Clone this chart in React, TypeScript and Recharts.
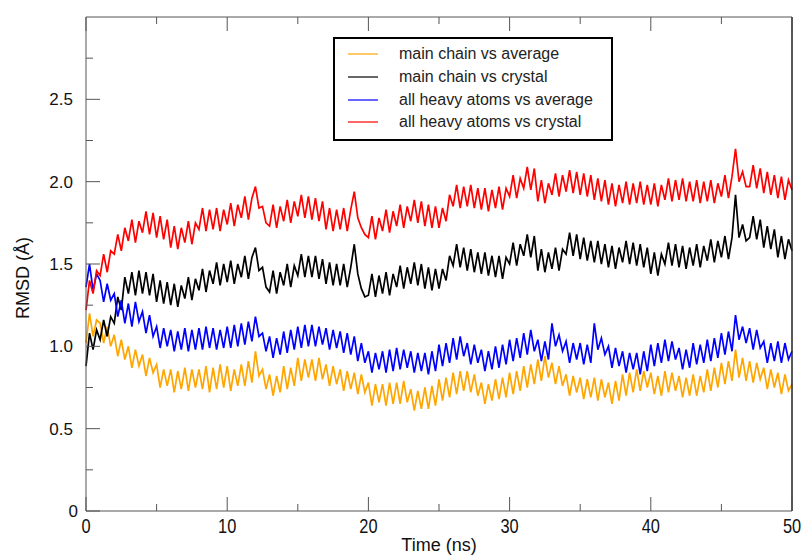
import { LineChart, Line, XAxis, YAxis, Legend } from 'recharts';

// sampling step of the trajectory rows (ns)
const STEP_NS = 0.25;

const X_TICKS = [0, 5, 10, 15, 20, 25, 30, 35, 40, 45, 50];
const Y_TICKS = [0, 0.25, 0.5, 0.75, 1, 1.25, 1.5, 1.75, 2, 2.25, 2.5, 2.75];

// main chain vs average
const mainAvg = [
  1.02, 1.20, 1.06, 1.16, 1.14, 1.02, 1.12, 1.00, 1.07, 0.94, 1.04, 0.92, 1.00, 0.87, 0.98, 0.88, 0.95, 0.82, 0.93, 0.84,
  0.89, 0.75, 0.86, 0.76, 0.86, 0.72, 0.85, 0.74, 0.87, 0.73, 0.86, 0.75, 0.86, 0.74, 0.88, 0.72, 0.87, 0.74, 0.89, 0.75,
  0.88, 0.73, 0.86, 0.76, 0.89, 0.76, 0.91, 0.78, 0.97, 0.82, 0.86, 0.74, 0.83, 0.70, 0.82, 0.72, 0.88, 0.74, 0.87, 0.76,
  0.93, 0.79, 0.92, 0.81, 0.92, 0.79, 0.93, 0.80, 0.89, 0.76, 0.88, 0.77, 0.86, 0.73, 0.85, 0.74, 0.84, 0.71, 0.83, 0.72,
  0.78, 0.64, 0.77, 0.66, 0.77, 0.64, 0.78, 0.65, 0.78, 0.65, 0.79, 0.66, 0.74, 0.61, 0.73, 0.62, 0.75, 0.62, 0.76, 0.64,
  0.80, 0.67, 0.81, 0.69, 0.84, 0.71, 0.85, 0.73, 0.85, 0.72, 0.83, 0.70, 0.78, 0.65, 0.77, 0.67, 0.80, 0.68, 0.81, 0.69,
  0.84, 0.71, 0.85, 0.73, 0.88, 0.75, 0.89, 0.77, 0.92, 0.79, 0.94, 0.81, 0.90, 0.77, 0.88, 0.76, 0.83, 0.70, 0.82, 0.72,
  0.81, 0.68, 0.80, 0.69, 0.81, 0.67, 0.80, 0.69, 0.78, 0.65, 0.79, 0.67, 0.83, 0.70, 0.84, 0.72, 0.86, 0.73, 0.85, 0.75,
  0.84, 0.71, 0.82, 0.70, 0.85, 0.72, 0.84, 0.73, 0.82, 0.69, 0.81, 0.70, 0.83, 0.70, 0.82, 0.72, 0.86, 0.73, 0.87, 0.75,
  0.90, 0.77, 0.91, 0.79, 0.98, 0.81, 0.93, 0.79, 0.91, 0.78, 0.90, 0.80, 0.87, 0.74, 0.86, 0.75, 0.84, 0.71, 0.83, 0.73,
  0.77,
];

// main chain vs crystal
const mainCrys = [
  0.88, 1.08, 0.98, 1.10, 1.04, 1.16, 1.06, 1.18, 1.14, 1.30, 1.22, 1.42, 1.32, 1.45, 1.31, 1.46, 1.32, 1.45, 1.31, 1.44,
  1.27, 1.40, 1.26, 1.39, 1.25, 1.38, 1.24, 1.37, 1.29, 1.42, 1.28, 1.41, 1.34, 1.47, 1.33, 1.46, 1.38, 1.51, 1.37, 1.50,
  1.39, 1.52, 1.38, 1.50, 1.42, 1.55, 1.41, 1.54, 1.60, 1.46, 1.48, 1.36, 1.33, 1.46, 1.32, 1.45, 1.37, 1.50, 1.36, 1.49,
  1.43, 1.56, 1.42, 1.55, 1.42, 1.55, 1.41, 1.53, 1.38, 1.51, 1.37, 1.50, 1.37, 1.50, 1.36, 1.48, 1.62, 1.44, 1.35, 1.30,
  1.31, 1.44, 1.30, 1.43, 1.32, 1.45, 1.31, 1.44, 1.36, 1.49, 1.35, 1.48, 1.38, 1.51, 1.37, 1.50, 1.35, 1.48, 1.34, 1.47,
  1.35, 1.47, 1.40, 1.55, 1.49, 1.62, 1.48, 1.60, 1.46, 1.59, 1.45, 1.57, 1.44, 1.57, 1.43, 1.55, 1.42, 1.55, 1.41, 1.54,
  1.50, 1.63, 1.49, 1.62, 1.55, 1.68, 1.54, 1.67, 1.46, 1.59, 1.45, 1.57, 1.47, 1.60, 1.46, 1.59, 1.56, 1.69, 1.55, 1.68,
  1.53, 1.66, 1.52, 1.64, 1.51, 1.64, 1.50, 1.62, 1.48, 1.61, 1.47, 1.60, 1.51, 1.64, 1.50, 1.63, 1.49, 1.62, 1.48, 1.60,
  1.44, 1.57, 1.43, 1.56, 1.50, 1.63, 1.49, 1.62, 1.48, 1.61, 1.47, 1.60, 1.49, 1.62, 1.48, 1.61, 1.52, 1.65, 1.51, 1.64,
  1.54, 1.67, 1.53, 1.66, 1.92, 1.66, 1.74, 1.64, 1.66, 1.79, 1.65, 1.77, 1.60, 1.73, 1.59, 1.71, 1.54, 1.67, 1.53, 1.65,
  1.58,
];

// all heavy atoms vs average
const heavyAvg = [
  1.36, 1.50, 1.34, 1.44, 1.40, 1.27, 1.38, 1.28, 1.32, 1.18, 1.28, 1.14, 1.26, 1.12, 1.27, 1.15, 1.21, 1.08, 1.19, 1.06,
  1.12, 0.99, 1.11, 1.00, 1.10, 0.97, 1.09, 0.98, 1.11, 0.97, 1.10, 0.98, 1.11, 0.98, 1.12, 0.99, 1.11, 0.98, 1.10, 0.99,
  1.12, 0.99, 1.13, 1.00, 1.14, 1.01, 1.15, 1.03, 1.18, 1.06, 1.08, 0.97, 1.06, 0.93, 1.05, 0.95, 1.09, 0.96, 1.10, 0.98,
  1.12, 0.99, 1.13, 1.00, 1.13, 1.00, 1.12, 1.01, 1.11, 0.98, 1.10, 0.99, 1.09, 0.96, 1.08, 0.95, 1.06, 0.91, 1.02, 0.90,
  0.97, 0.84, 0.96, 0.86, 0.97, 0.84, 0.98, 0.85, 0.99, 0.86, 0.98, 0.87, 0.97, 0.84, 0.96, 0.85, 0.96, 0.83, 0.97, 0.85,
  1.01, 0.88, 1.02, 0.90, 1.05, 0.92, 1.06, 0.94, 1.02, 0.89, 1.01, 0.90, 0.98, 0.85, 0.97, 0.86, 1.00, 0.87, 1.01, 0.89,
  1.04, 0.91, 1.05, 0.93, 1.08, 0.95, 1.10, 0.97, 1.04, 0.91, 1.03, 0.92, 1.14, 1.00, 1.07, 0.97, 1.03, 0.90, 1.02, 0.92,
  1.02, 0.89, 1.01, 0.90, 1.14, 0.98, 1.05, 0.95, 1.00, 0.87, 0.99, 0.88, 0.97, 0.84, 0.96, 0.86, 0.96, 0.83, 0.97, 0.85,
  1.01, 0.88, 1.02, 0.90, 1.04, 0.91, 1.03, 0.92, 0.99, 0.86, 0.98, 0.87, 1.02, 0.89, 1.01, 0.90, 1.04, 0.91, 1.05, 0.93,
  1.08, 0.95, 1.09, 0.97, 1.19, 1.04, 1.12, 1.02, 1.11, 0.98, 1.10, 0.99, 1.03, 0.90, 1.02, 0.91, 1.03, 0.90, 1.02, 0.92,
  0.97,
];

// all heavy atoms vs crystal
const heavyCrys = [
  1.22, 1.40, 1.32, 1.46, 1.43, 1.56, 1.45, 1.58, 1.56, 1.68, 1.58, 1.72, 1.64, 1.77, 1.63, 1.76, 1.69, 1.82, 1.68, 1.81,
  1.66, 1.79, 1.65, 1.77, 1.60, 1.73, 1.59, 1.72, 1.63, 1.76, 1.62, 1.75, 1.71, 1.84, 1.70, 1.83, 1.71, 1.84, 1.70, 1.83,
  1.74, 1.87, 1.73, 1.86, 1.78, 1.91, 1.77, 1.90, 1.97, 1.84, 1.85, 1.75, 1.73, 1.86, 1.72, 1.85, 1.76, 1.89, 1.75, 1.88,
  1.79, 1.92, 1.78, 1.91, 1.77, 1.90, 1.76, 1.88, 1.71, 1.84, 1.70, 1.83, 1.71, 1.84, 1.70, 1.83, 1.94, 1.78, 1.72, 1.68,
  1.66, 1.79, 1.65, 1.78, 1.70, 1.83, 1.69, 1.82, 1.73, 1.86, 1.72, 1.85, 1.76, 1.89, 1.75, 1.88, 1.73, 1.86, 1.72, 1.85,
  1.72, 1.84, 1.76, 1.92, 1.85, 1.98, 1.84, 1.97, 1.85, 1.98, 1.84, 1.96, 1.83, 1.96, 1.82, 1.95, 1.84, 1.97, 1.83, 1.96,
  1.91, 2.04, 1.90, 2.02, 1.96, 2.09, 1.95, 2.08, 1.88, 2.01, 1.87, 1.99, 1.92, 2.05, 1.91, 2.04, 1.94, 2.07, 1.93, 2.06,
  1.92, 2.05, 1.91, 2.04, 1.89, 2.02, 1.88, 2.01, 1.86, 1.99, 1.85, 1.98, 1.87, 2.00, 1.86, 1.99, 1.87, 2.00, 1.86, 1.98,
  1.86, 1.99, 1.85, 1.98, 1.89, 2.02, 1.88, 2.01, 1.89, 2.02, 1.88, 2.00, 1.88, 2.01, 1.87, 2.00, 1.88, 2.01, 1.87, 1.99,
  1.91, 2.04, 1.90, 2.03, 2.20, 2.00, 2.06, 1.97, 1.97, 2.10, 1.96, 2.08, 1.93, 2.06, 1.92, 2.04, 1.90, 2.03, 1.89, 2.01,
  1.95,
];

const SERIES = [
  { key: 'mainAvg', name: 'main chain vs average', color: '#ffa500', values: mainAvg },
  { key: 'mainCrys', name: 'main chain vs crystal', color: '#000000', values: mainCrys },
  { key: 'heavyAvg', name: 'all heavy atoms vs average', color: '#0000ff', values: heavyAvg },
  { key: 'heavyCrys', name: 'all heavy atoms vs crystal', color: '#ff0000', values: heavyCrys },
];

const rows = mainAvg.map((_, i) => {
  const row: Record<string, number> = { t: i * STEP_NS };
  SERIES.forEach((s) => (row[s.key] = s.values[i]));
  return row;
});

const FONT = '"Liberation Sans", Arial, Helvetica, sans-serif';
const AXIS = '#555';

const BottomTick = ({ x, y, payload }: any) => {
  const major = payload.value % 10 === 0;
  return (
    <g>
      <line x1={x} x2={x} y1={y} y2={y - (major ? 14 : 7)} stroke={AXIS} />
      {major && (
        <text
          transform={`translate(${x},${y + 22}) scale(0.82,1)`}
          textAnchor="middle"
          fontSize={20}
          fontFamily={FONT}
          fill="#111"
        >
          {payload.value}
        </text>
      )}
    </g>
  );
};

const TopTick = ({ x, y, payload }: any) => (
  <line x1={x} x2={x} y1={y} y2={y + (payload.value % 10 === 0 ? 14 : 7)} stroke={AXIS} />
);

const LeftTick = ({ x, y, payload }: any) => {
  const v = payload.value;
  const major = v % 0.5 === 0;
  return (
    <g>
      <line x1={x} x2={x + (major ? 14 : 7)} y1={y} y2={y} stroke={AXIS} />
      {major && (
        <text
          x={v === 0 ? x - 8 : x - 13}
          y={y + 6}
          textAnchor="end"
          fontSize={17}
          fontFamily={FONT}
          fill="#111"
        >
          {v === 0 ? '0' : v.toFixed(1)}
        </text>
      )}
    </g>
  );
};

const RightTick = ({ x, y, payload }: any) => (
  <line x1={x} x2={x - (payload.value % 0.5 === 0 ? 14 : 7)} y1={y} y2={y} stroke={AXIS} />
);

const LegendBox = () => (
  <div
    style={{
      width: 276,
      height: 96,
      border: '2px solid #000',
      background: '#fff',
      fontFamily: FONT,
      fontSize: 16,
      color: '#222',
      paddingTop: 4,
      boxSizing: 'content-box',
    }}
  >
    {SERIES.map((s) => (
      <div key={s.key} style={{ display: 'flex', alignItems: 'center', height: 22.7 }}>
        <svg width={30} height={4} style={{ marginLeft: 13, marginRight: 21 }}>
          <line x1={0} x2={30} y1={2} y2={2} stroke={s.color} strokeWidth={1.2} />
        </svg>
        <span>{s.name}</span>
      </div>
    ))}
  </div>
);

export default function App() {
  return (
    <div style={{ position: 'absolute', left: 0, top: 0, background: '#fff' }}>
      <LineChart width={808} height={556} data={rows} margin={{ top: 16, right: 15, bottom: 44, left: 85 }}>
        <XAxis
          dataKey="t"
          type="number"
          domain={[0, 50]}
          ticks={X_TICKS}
          interval={0}
          height={1}
          tickSize={0}
          tickMargin={0}
          tickLine={false}
          axisLine={{ stroke: AXIS }}
          tick={<BottomTick />}
          label={{
            content: ({ viewBox }: any) => (
              <text
                x={viewBox.x + viewBox.width / 2}
                y={viewBox.y + 40}
                textAnchor="middle"
                fontSize={18}
                fontFamily={FONT}
                fill="#111"
              >
                Time (ns)
              </text>
            ),
          }}
        />
        <XAxis
          xAxisId="top"
          orientation="top"
          dataKey="t"
          type="number"
          domain={[0, 50]}
          ticks={X_TICKS}
          interval={0}
          height={1}
          tickSize={0}
          tickMargin={0}
          tickLine={false}
          axisLine={{ stroke: AXIS }}
          tick={<TopTick />}
        />
        <YAxis
          type="number"
          domain={[0, 3]}
          ticks={Y_TICKS}
          interval={0}
          width={1}
          tickSize={0}
          tickMargin={0}
          tickLine={false}
          axisLine={{ stroke: AXIS }}
          tick={<LeftTick />}
          label={{
            content: ({ viewBox }: any) => (
              <text
                transform={`translate(${viewBox.x - 56},${viewBox.y + viewBox.height / 2 + 14}) rotate(-90)`}
                textAnchor="middle"
                fontSize={18}
                fontFamily={FONT}
                fill="#111"
              >
                RMSD (Å)
              </text>
            ),
          }}
        />
        <YAxis
          yAxisId="right"
          orientation="right"
          type="number"
          domain={[0, 3]}
          ticks={Y_TICKS}
          interval={0}
          width={1}
          tickSize={0}
          tickMargin={0}
          tickLine={false}
          axisLine={{ stroke: '#222', strokeWidth: 1.5 }}
          tick={<RightTick />}
        />
        {SERIES.map((s) => (
          <Line
            key={s.key}
            type="linear"
            dataKey={s.key}
            name={s.name}
            stroke={s.color}
            strokeWidth={1.7}
            dot={false}
            activeDot={false}
            isAnimationActive={false}
          />
        ))}
        <Legend
          layout="vertical"
          verticalAlign="middle"
          align="center"
          wrapperStyle={{ left: 333, top: 37, width: 280, height: 100 }}
          content={<LegendBox />}
        />
      </LineChart>
    </div>
  );
}
